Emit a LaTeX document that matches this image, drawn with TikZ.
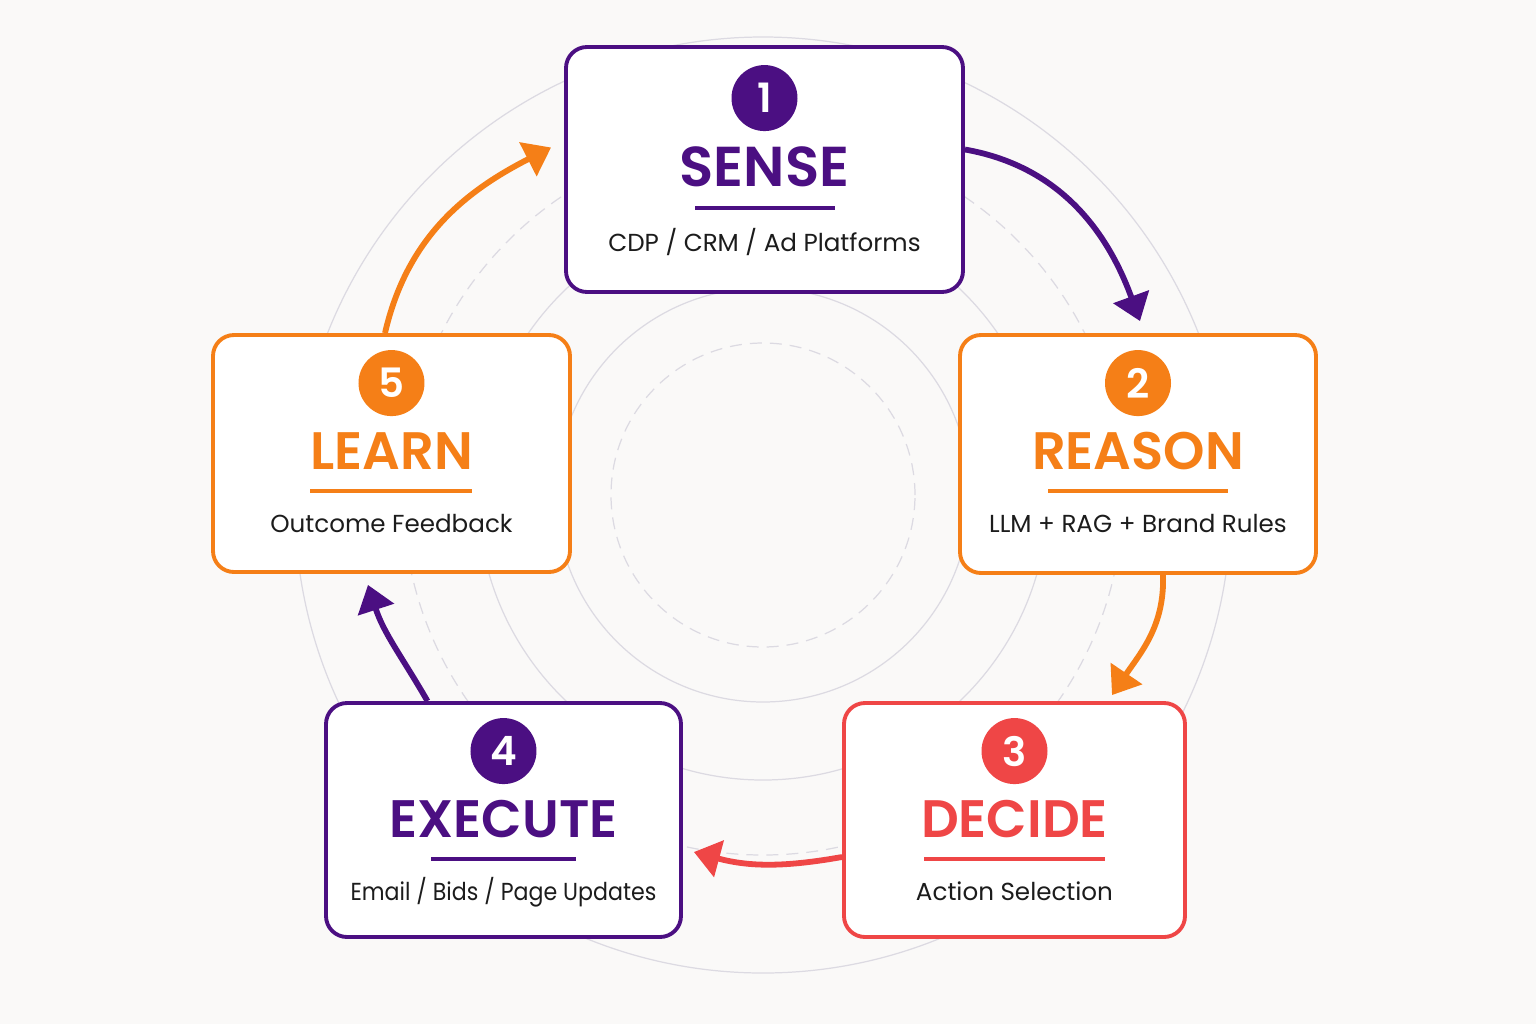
\documentclass[tikz,border=0pt]{standalone}
\usepackage{fontspec}
\setmainfont{Poppins}[BoldFont={Poppins SemiBold}]
\usetikzlibrary{positioning, arrows.meta}
\definecolor{plum}{HTML}{4B0F82}
\definecolor{tangerine}{HTML}{F57F17}
\definecolor{coral}{HTML}{EF4646}
\definecolor{paper}{HTML}{FAF9F8}
\definecolor{ringgray}{HTML}{DCDAE2}
\definecolor{ink}{HTML}{1C1C1C}

\begin{document}
\begin{tikzpicture}[
    font=\fontsize{14}{17}\selectfont,
    >={Triangle[length=5.2mm, width=7.4mm]},
    stagebox/.style={rounded corners=0.42cm, fill=white, line width=2.2pt},
    badge/.style={circle, fill=#1, text=white, minimum size=1.32cm, inner sep=0pt,
        font=\fontsize{23}{23}\selectfont\bfseries},
    titletext/.style={text=#1, anchor=base, inner sep=0pt,
        font=\fontsize{30}{30}\selectfont\bfseries},
    ruleline/.style={fill=#1, minimum height=0.08cm, inner sep=0pt},
    subtext/.style={anchor=base, inner sep=0pt, text=ink},
    flow/.style={->, line width=3.3pt},
    ring/.style={draw=ringgray, line width=0.7pt},
    dashring/.style={ring, dash pattern=on 0.24cm off 0.16cm}
  ]
    \fill[paper] (-15.26,-10.58) rectangle (15.46,9.9);
    \useasboundingbox (-15.26,-10.58) rectangle (15.46,9.9);
    % backdrop rings
    \draw[dashring] (0,0) circle (3.04);
    \draw[ring] (0,0) circle (4.14);
    \draw[ring] (0,0) circle (5.7);
    \draw[dashring] (0,0) circle (7.2);
    \draw[ring] (0,-0.2) circle (9.36);
    % the five stages
    \node[stagebox, draw=plum, minimum width=7.94cm, minimum height=4.9cm] (sense) at (0.03,6.51) {};
    \node[stagebox, draw=tangerine, minimum width=7.12cm, minimum height=4.76cm] (reason) at (7.5,0.82) {};
    \node[stagebox, draw=coral, minimum width=6.82cm, minimum height=4.68cm] (decide) at (5.03,-6.5) {};
    \node[stagebox, draw=plum, minimum width=7.1cm, minimum height=4.68cm] (execute) at (-5.19,-6.5) {};
    \node[stagebox, draw=tangerine, minimum width=7.14cm, minimum height=4.74cm] (learn) at (-7.43,0.83) {};
    % sense
    \node[badge=plum] (sense-num) at ([yshift=-1.06cm]sense.north) {1};
    \node[titletext=plum, font=\fontsize{32}{32}\selectfont\bfseries] (sense-title) at ([yshift=-2.82cm]sense.north) {SENSE};
    \node[ruleline=plum, minimum width=2.8cm] (sense-rule) at ([yshift=-3.26cm]sense.north) {};
    \node[subtext] (sense-sub) at ([yshift=-4.12cm]sense.north) {CDP / CRM / Ad Platforms};
    % reason
    \node[badge=tangerine] (reason-num) at ([yshift=-1.0cm]reason.north) {2};
    \node[titletext=tangerine] (reason-title) at ([yshift=-2.72cm]reason.north) {REASON};
    \node[ruleline=tangerine, minimum width=3.6cm] (reason-rule) at ([yshift=-3.15cm]reason.north) {};
    \node[subtext] (reason-sub) at ([yshift=-3.98cm]reason.north) {LLM + RAG + Brand Rules};
    % decide
    \node[badge=coral] (decide-num) at ([yshift=-1.0cm]decide.north) {3};
    \node[titletext=coral] (decide-title) at ([yshift=-2.72cm]decide.north) {DECIDE};
    \node[ruleline=coral, minimum width=3.62cm] (decide-rule) at ([yshift=-3.15cm]decide.north) {};
    \node[subtext] (decide-sub) at ([yshift=-3.98cm]decide.north) {Action Selection};
    % execute
    \node[badge=plum] (execute-num) at ([yshift=-1.0cm]execute.north) {4};
    \node[titletext=plum] (execute-title) at ([yshift=-2.72cm]execute.north) {EXECUTE};
    \node[ruleline=plum, minimum width=2.9cm] (execute-rule) at ([yshift=-3.15cm]execute.north) {};
    \node[subtext, xscale=0.9, transform shape] (execute-sub) at ([yshift=-3.98cm]execute.north) {Email / Bids / Page Updates};
    % learn
    \node[badge=tangerine] (learn-num) at ([yshift=-1.0cm]learn.north) {5};
    \node[titletext=tangerine] (learn-title) at ([yshift=-2.72cm]learn.north) {LEARN};
    \node[ruleline=tangerine, minimum width=3.24cm] (learn-rule) at ([yshift=-3.15cm]learn.north) {};
    \node[subtext] (learn-sub) at ([yshift=-3.98cm]learn.north) {Outcome Feedback};
    % loop arrows, clockwise
    \draw[flow, plum] ([yshift=0.4cm]sense.east) to[out=-10, in=110]
        ([xshift=0.04cm, yshift=0.24cm]reason.north);
    \draw[flow, tangerine] ([xshift=0.5cm]reason.south) to[out=-88, in=56]
        ([xshift=1.95cm, yshift=0.12cm]decide.north);
    \draw[flow, coral] ([yshift=-0.74cm]decide.west) to[out=190, in=-15]
        ([xshift=0.22cm, yshift=-0.64cm]execute.east);
    \draw[flow, plum] ([xshift=-1.52cm]execute.north) to[out=120, in=-72]
        ([xshift=-0.47cm, yshift=-0.22cm]learn.south);
    \draw[flow, tangerine] ([xshift=-0.13cm]learn.north) to[out=77, in=207]
        ([xshift=-0.26cm, yshift=0.44cm]sense.west);
  \end{tikzpicture}
\end{document}
